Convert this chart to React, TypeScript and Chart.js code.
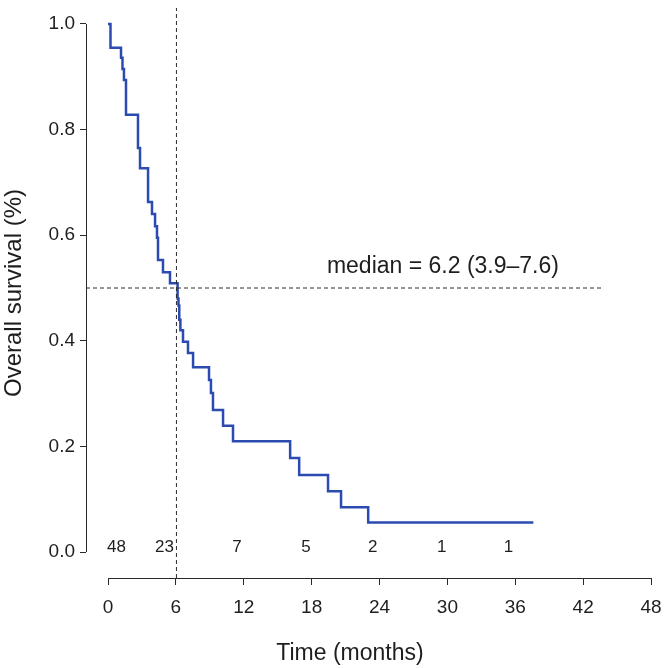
import React, { useEffect, useRef } from 'react';
import { Chart, registerables } from 'chart.js';

Chart.register(...registerables);

// Kaplan–Meier curve (time in months, survival proportion after each drop)
const kmTimes = [0, 0.22, 1.15, 1.28, 1.41, 1.59, 2.65, 2.83, 3.54, 3.89, 4.16, 4.33, 4.42, 4.86, 5.48, 6.15, 6.23, 6.3, 6.4, 6.63, 7.07, 7.52, 8.93, 9.1, 9.28, 10.17, 11.05, 16.1, 16.9, 19.45, 20.6, 23.0, 37.6];
const kmSurvival = [1.0, 0.955, 0.936, 0.915, 0.894, 0.828, 0.765, 0.727, 0.663, 0.64, 0.617, 0.595, 0.553, 0.53, 0.509, 0.48, 0.467, 0.44, 0.42, 0.398, 0.377, 0.35, 0.326, 0.301, 0.269, 0.239, 0.21, 0.178, 0.146, 0.115, 0.085, 0.056, 0.056];

// Axis ticks
const xTickValues = [0, 6, 12, 18, 24, 30, 36, 42, 48];
const yTickValues = [0, 0.2, 0.4, 0.6, 0.8, 1.0];

// Number at risk
const riskTimes = [0.75, 5, 11.4, 17.5, 23.4, 29.5, 35.4];
const riskCounts = [48, 23, 7, 5, 2, 1, 1];
const riskLevel = 0.008;

// Median reference lines
const medianTime = 6.05;
const medianSurvival = 0.5;
const vLineSpan = [-0.0492, 1.0303];
const hLineSpan = [-1.945, 43.75];
const medianLabel = 'median = 6.2 (3.9–7.6)';
const medianLabelPos = [19.35, 0.54];

const X_MIN = -1.945;
const X_MAX = 48;
const Y_MIN = -0.0492;
const Y_MAX = 1.0303;

const FONT = "'Liberation Sans', Arial, Helvetica, sans-serif";
const TEXT = '#1e1e1e';
const AXIS = '#2a2a2a';

const overlayPlugin = {
  id: 'overlay',
  afterDraw(chart: any) {
    const ctx = chart.ctx;
    const xs = chart.scales.x;
    const ys = chart.scales.y;
    ctx.save();
    // axis lines (R style, spanning only the tick range)
    ctx.strokeStyle = AXIS;
    ctx.lineWidth = 1;
    ctx.beginPath();
    const yAxisX = Math.round(chart.chartArea.left) + 0.5;
    ctx.moveTo(yAxisX, ys.getPixelForValue(yTickValues[0]));
    ctx.lineTo(yAxisX, ys.getPixelForValue(yTickValues[yTickValues.length - 1]));
    const xAxisY = Math.round(chart.chartArea.bottom) + 0.5;
    ctx.moveTo(xs.getPixelForValue(xTickValues[0]), xAxisY);
    ctx.lineTo(xs.getPixelForValue(xTickValues[xTickValues.length - 1]), xAxisY);
    ctx.stroke();

    // number at risk
    ctx.fillStyle = TEXT;
    ctx.font = `17px ${FONT}`;
    ctx.textAlign = 'center';
    ctx.textBaseline = 'middle';
    riskTimes.forEach((t, i) => {
      ctx.fillText(String(riskCounts[i]), xs.getPixelForValue(t), ys.getPixelForValue(riskLevel));
    });

    // median label
    ctx.font = `23px ${FONT}`;
    ctx.textAlign = 'left';
    ctx.textBaseline = 'middle';
    ctx.fillText(medianLabel, xs.getPixelForValue(medianLabelPos[0]), ys.getPixelForValue(medianLabelPos[1]));

    // x axis title
    ctx.font = `23px ${FONT}`;
    ctx.textAlign = 'center';
    ctx.textBaseline = 'alphabetic';
    ctx.fillText('Time (months)', 350, 660);
    ctx.restore();
  },
};

export default function App() {
  const canvasRef = useRef<HTMLCanvasElement | null>(null);

  useEffect(() => {
    if (!canvasRef.current) return;
    const chart = new Chart(canvasRef.current, {
      type: 'line',
      data: {
        datasets: [
          {
            data: [
              { x: medianTime, y: vLineSpan[0] },
              { x: medianTime, y: vLineSpan[1] },
            ],
            borderColor: AXIS,
            borderWidth: 1,
            borderDash: [4, 3],
            pointRadius: 0,
            fill: false,
          },
          {
            data: [
              { x: hLineSpan[0], y: medianSurvival },
              { x: hLineSpan[1], y: medianSurvival },
            ],
            borderColor: AXIS,
            borderWidth: 1,
            borderDash: [4, 3],
            pointRadius: 0,
            fill: false,
          },
          {
            data: kmTimes.map((t, i) => ({ x: t, y: kmSurvival[i] })),
            borderColor: '#2c4bb0',
            borderWidth: 2.5,
            stepped: true,
            pointRadius: 0,
            fill: false,
            tension: 0,
          },
        ],
      },
      options: {
        animation: false,
        responsive: true,
        maintainAspectRatio: false,
        layout: { padding: { top: 8, right: 16, left: 0, bottom: 0 } },
        plugins: {
          legend: { display: false },
          tooltip: { enabled: false },
        },
        scales: {
          x: {
            type: 'linear',
            min: X_MIN,
            max: X_MAX,
            afterBuildTicks: (s: any) => {
              s.ticks = xTickValues.map((v) => ({ value: v }));
            },
            afterFit: (s: any) => {
              s.height = 90;
              s.paddingLeft = 0;
              s.paddingRight = 0;
            },
            border: { display: false },
            grid: {
              drawOnChartArea: false,
              drawTicks: true,
              tickLength: 7,
              color: AXIS,
              lineWidth: 1,
            },
            ticks: {
              autoSkip: false,
              maxRotation: 0,
              padding: 11,
              color: TEXT,
              font: { family: FONT, size: 19 },
              callback: (v: any) => String(v),
            },
          },
          y: {
            type: 'linear',
            min: Y_MIN,
            max: Y_MAX,
            afterBuildTicks: (s: any) => {
              s.ticks = yTickValues.map((v) => ({ value: v }));
            },
            afterFit: (s: any) => {
              s.width = 86;
              s.paddingTop = 0;
              s.paddingBottom = 0;
            },
            border: { display: false },
            grid: {
              drawOnChartArea: false,
              drawTicks: true,
              tickLength: 6,
              color: AXIS,
              lineWidth: 1,
            },
            ticks: {
              autoSkip: false,
              padding: 5,
              color: TEXT,
              font: { family: FONT, size: 19 },
              callback: (v: any) => Number(v).toFixed(1),
            },
            title: {
              display: true,
              text: 'Overall survival (%)',
              color: TEXT,
              font: { family: FONT, size: 24 },
              padding: 0,
            },
          },
        },
      },
      plugins: [overlayPlugin],
    } as any);
    return () => chart.destroy();
  }, []);

  return (
    <div style={{ position: 'fixed', left: 0, top: 0, width: 667, height: 668, background: '#fff' }}>
      <canvas ref={canvasRef} />
    </div>
  );
}
